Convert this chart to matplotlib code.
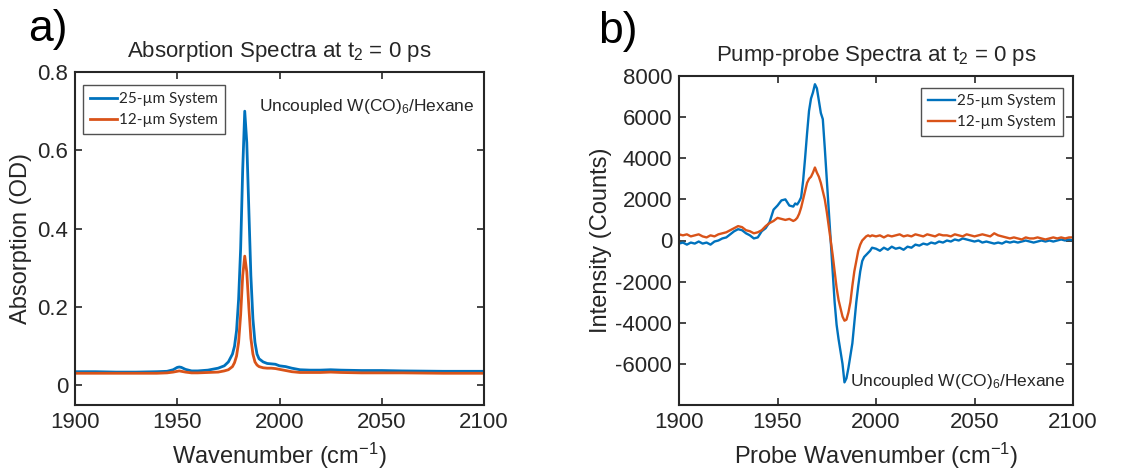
import numpy as np
import matplotlib
matplotlib.use("Agg")
import matplotlib.pyplot as plt

plt.rcParams["font.family"] = ["Liberation Sans", "DejaVu Sans"]
plt.rcParams["mathtext.fontset"] = "custom"
plt.rcParams["mathtext.rm"] = "Liberation Sans"
plt.rcParams["mathtext.it"] = "Liberation Sans:italic"
plt.rcParams["axes.unicode_minus"] = False

BLUE = "#0072BD"
ORANGE = "#D95319"
DARK = "#262626"

# ---- panel a: absorption spectra ----
wn_abs = [1900, 1910, 1920, 1930, 1940, 1945, 1948, 1950, 1951, 1952, 1954, 1957,
          1960, 1965, 1970, 1973, 1975, 1977, 1978, 1979, 1980, 1981, 1982, 1983,
          1984, 1985, 1986, 1987, 1988, 1989, 1990, 1992, 1994, 1996, 1998, 2000,
          2003, 2006, 2010, 2015, 2020, 2025, 2030, 2040, 2050, 2060, 2080, 2100]
abs_25 = [0.035, 0.035, 0.034, 0.034, 0.035, 0.036, 0.040, 0.046, 0.047, 0.046, 0.041, 0.037,
          0.037, 0.039, 0.044, 0.050, 0.060, 0.080, 0.100, 0.140, 0.220, 0.350, 0.550, 0.700,
          0.620, 0.450, 0.280, 0.170, 0.110, 0.080, 0.068, 0.060, 0.056, 0.055, 0.054, 0.050,
          0.048, 0.044, 0.040, 0.039, 0.039, 0.040, 0.039, 0.038, 0.038, 0.037, 0.036, 0.036]
abs_12 = [0.031, 0.031, 0.031, 0.031, 0.031, 0.032, 0.034, 0.036, 0.037, 0.036, 0.034, 0.032,
          0.032, 0.033, 0.034, 0.037, 0.040, 0.048, 0.058, 0.075, 0.110, 0.180, 0.280, 0.330,
          0.290, 0.200, 0.120, 0.080, 0.060, 0.052, 0.048, 0.045, 0.044, 0.044, 0.043, 0.041,
          0.038, 0.035, 0.033, 0.033, 0.033, 0.034, 0.033, 0.032, 0.032, 0.032, 0.031, 0.031]

# ---- panel b: pump-probe spectra ----
wn_pp = [1900, 1902, 1904, 1906, 1908, 1910, 1912, 1914, 1916, 1918, 1920, 1922, 1924,
         1926, 1928, 1930, 1932, 1934, 1936, 1938, 1940, 1942, 1944, 1946, 1948, 1950,
         1952, 1954, 1956, 1958, 1959, 1960, 1961, 1962, 1963, 1964, 1965, 1966, 1967,
         1968, 1969, 1970, 1971, 1972, 1973, 1974, 1975, 1976, 1977, 1978, 1979, 1980,
         1981, 1982, 1983, 1984, 1985, 1986, 1987, 1988, 1989, 1990, 1991, 1992, 1993,
         1994, 1995, 1996, 1997, 1998, 2000, 2002, 2004, 2006, 2008, 2010, 2012, 2014,
         2016, 2018, 2020, 2022, 2024, 2026, 2028, 2030, 2032, 2034, 2036, 2038, 2040,
         2042, 2044, 2046, 2048, 2050, 2052, 2054, 2056, 2058, 2060, 2062, 2064, 2066,
         2068, 2070, 2072, 2074, 2076, 2078, 2080, 2082, 2084, 2086, 2088, 2090, 2092,
         2094, 2096, 2098, 2100]
pp_25 = [-150, -100, -200, -100, -150, -50, -150, -100, -200, -50, 0, 100, 150,
         300, 450, 550, 500, 350, 250, 100, 150, 450, 600, 900, 1500, 1700,
         1950, 2000, 1700, 1650, 1800, 1750, 1900, 2100, 2900, 4000, 5200, 6300, 6900,
         7200, 7600, 7400, 6800, 6200, 5900, 4500, 3000, 1500, 0, -1500, -3000, -4100,
         -4800, -5400, -6000, -6900, -6700, -6200, -5600, -5000, -4000, -3000, -2200, -1500, -1000,
         -800, -700, -600, -500, -350, -400, -500, -350, -450, -300, -400, -350, -450,
         -300, -350, -200, -250, -150, -200, -100, -150, -50, -100, 0, -50, 50,
         0, 100, 50, 0, -50, 0, -100, -50, -100, -150, -100, -150, -50,
         -100, -50, -100, -50, 0, -50, -100, -50, 0, -50, 0, -50, 0,
         50, 0, 50, 0]
pp_12 = [300, 250, 300, 200, 250, 300, 200, 150, 250, 200, 300, 350, 400,
         500, 600, 700, 650, 500, 450, 350, 400, 500, 700, 850, 950, 1100,
         1050, 1000, 1050, 950, 1000, 1100, 1300, 1600, 2000, 2400, 2800, 3000, 3100,
         3300, 3550, 3300, 3100, 2800, 2400, 2000, 1400, 700, 0, -700, -1500, -2300,
         -2900, -3300, -3700, -3900, -3850, -3500, -3000, -2200, -1500, -1000, -500, -200, 0,
         100, 200, 250, 200, 250, 200, 250, 150, 250, 200, 250, 300, 200,
         250, 200, 300, 250, 200, 300, 250, 200, 300, 250, 250, 200, 300,
         250, 200, 300, 250, 200, 250, 300, 250, 200, 350, 250, 200, 150,
         100, 150, 100, 50, 150, 100, 100, 150, 100, 50, 100, 150, 100,
         150, 100, 150, 150]

labels = ["25-\u00b5m System", "12-\u00b5m System"]

fig = plt.figure(figsize=(11.43, 4.75), dpi=100)
ax1 = fig.add_axes([75 / 1143, 70 / 475, 409 / 1143, 333 / 475])
ax2 = fig.add_axes([679 / 1143, 70 / 475, 394 / 1143, 329 / 475])


def style(ax):
    for s in ax.spines.values():
        s.set_linewidth(1.5)
        s.set_color(DARK)
    ax.tick_params(direction="in", top=True, right=True, length=5, width=1.2,
                   colors=DARK, labelsize=16, pad=5)
    ax.set_xlim(1900, 2100)
    ax.set_xticks([1900, 1950, 2000, 2050, 2100])


def add_legend(ax, loc, anchor):
    leg = ax.legend(loc=loc, bbox_to_anchor=anchor, frameon=True, fancybox=False,
                    edgecolor=DARK, prop={"family": "Lato", "size": 11},
                    handlelength=1.75, handletextpad=0.15, borderpad=0.45,
                    labelspacing=0.45, borderaxespad=0)
    leg.get_frame().set_linewidth(1.0)
    for t in leg.get_texts():
        t.set_color(DARK)


ax1.plot(wn_abs, abs_25, color=BLUE, lw=2.0, label=labels[0])
ax1.plot(wn_abs, abs_12, color=ORANGE, lw=2.0, label=labels[1])
style(ax1)
ax1.set_ylim(-0.05, 0.8)
ax1.set_yticks([0, 0.2, 0.4, 0.6, 0.8])
ax1.set_yticklabels(["0", "0.2", "0.4", "0.6", "0.8"])
ax1.set_xlabel("Wavenumber (cm$^{-1}$)", fontsize=17, color=DARK, labelpad=6)
ax1.set_ylabel("Absorption (OD)", fontsize=17, color=DARK, labelpad=4)
ax1.set_title("Absorption Spectra at t$_2$ = 0 ps", fontsize=16, color=DARK, pad=11)
ax1.text(0.975, 0.895, "Uncoupled W(CO)$_6$/Hexane", transform=ax1.transAxes,
         ha="right", va="center", fontsize=12.5, color=DARK)
add_legend(ax1, "upper left", (0.02, 0.96))

ax2.plot(wn_pp, pp_25, color=BLUE, lw=1.7, label=labels[0])
ax2.plot(wn_pp, pp_12, color=ORANGE, lw=1.7, label=labels[1])
style(ax2)
ax2.set_ylim(-8000, 8000)
ax2.set_yticks([-6000, -4000, -2000, 0, 2000, 4000, 6000, 8000])
ax2.set_xlabel("Probe Wavenumber (cm$^{-1}$)", fontsize=17, color=DARK, labelpad=6)
ax2.set_ylabel("Intensity (Counts)", fontsize=17, color=DARK, labelpad=2)
ax2.set_title("Pump-probe Spectra at t$_2$ = 0 ps", fontsize=16, color=DARK, pad=11)
ax2.text(0.98, 0.07, "Uncoupled W(CO)$_6$/Hexane", transform=ax2.transAxes,
         ha="right", va="center", fontsize=12.5, color=DARK)
add_legend(ax2, "upper right", (0.975, 0.965))

fig.text(28 / 1143, 1 - 30 / 475, "a)", fontsize=32, color="black", va="center")
fig.text(598 / 1143, 1 - 32 / 475, "b)", fontsize=32, color="black", va="center")

fig.savefig("out.png", dpi=100)
